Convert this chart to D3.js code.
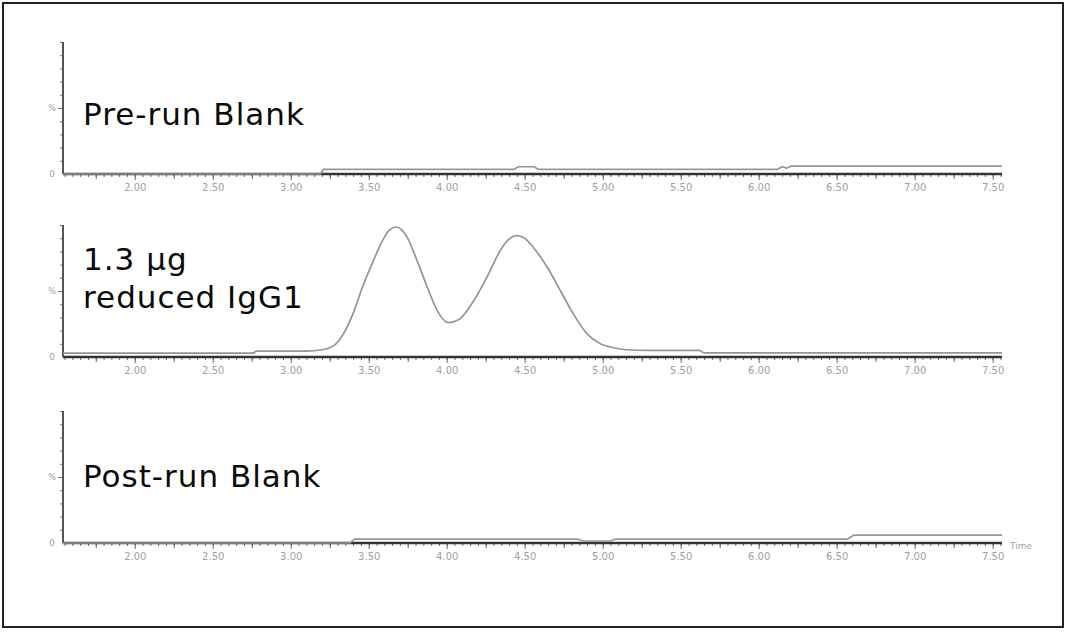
<!DOCTYPE html>
<html>
<head>
<meta charset="utf-8">
<script src="https://cdn.jsdelivr.net/npm/d3@7"></script>
<style>
  html, body { margin: 0; padding: 0; background: #fff; }
  svg { display: block; }
  .tick-label { font-family: "DejaVu Sans", Verdana, sans-serif; font-size: 10px; fill: #a0a0a0; }
  .panel-title { font-family: "DejaVu Sans", Verdana, sans-serif; font-size: 31px; letter-spacing: 1px; fill: #0a0a0a; }
</style>
</head>
<body>
<svg id="chart" width="1069" height="632"></svg>
<script>
// time axis labels (min)
const timeLabels = [2.00, 2.50, 3.00, 3.50, 4.00, 4.50, 5.00, 5.50, 6.00, 6.50, 7.00, 7.50];
const timeDomain = [1.54, 7.56];

// Pre-run blank trace (% signal)
const preRunTime   = [1.54, 3.19, 3.21, 4.43, 4.46, 4.56, 4.59, 6.12, 6.15, 6.18, 6.21, 6.24, 7.56];
const preRunSignal = [0,    0,    3.5,  3.5,  5.5,  5.5,  3.5,  3.5,  5.5,  4.5,  6,    6,    6];

// 1.3 ug reduced IgG1 trace (% signal)
const iggTime   = [1.54, 2.00, 2.50, 2.74, 2.76, 2.78, 2.80, 3.00, 3.10, 3.20, 3.28, 3.34, 3.40, 3.46, 3.53, 3.59, 3.63,
                   3.675, 3.71, 3.745, 3.81, 3.875, 3.94, 4.01, 4.085, 4.17, 4.26, 4.345, 4.40, 4.45, 4.50, 4.555,
                   4.645, 4.73, 4.81, 4.90, 4.985, 5.07, 5.15, 5.30, 5.45, 5.60, 5.62, 5.65, 5.67, 6.00, 6.50, 7.00, 7.56];
const iggSignal = [3.0,  3.0,  3.0,  3.0,  3.0,  4.5,  4.5,  4.5,  4.5,  5.5,  9,    18,   33,   53,   73,   88.5, 96,
                   98.5,  96.5, 91,    73,   53,    35,   26,   29,    42,   61,   81,    89.5, 92,   90,   83,
                   68,    50,   33,   17.5, 10,    7,    5.5,  5,    5,    5,    5,    3.2,  3.2,  3.2,  3.2,  3.2,  3.2];

// Post-run blank trace (% signal)
const postRunTime   = [1.54, 3.38, 3.41, 4.84, 4.87, 5.05, 5.08, 6.57, 6.61, 7.56];
const postRunSignal = [0,    0,    3,    3,    1.5,  1.5,  3,    3,    6,    6];

const panels = [
  { time: preRunTime, signal: preRunSignal, title: ['Pre-run Blank'], curve: d3.curveLinear },
  { time: iggTime, signal: iggSignal, title: ['1.3 \u00b5g', 'reduced IgG1'], curve: d3.curveMonotoneX },
  { time: postRunTime, signal: postRunSignal, title: ['Post-run Blank'], curve: d3.curveLinear }
];

const svg = d3.select('#chart');
const LEFT = 63, RIGHT = 1002, PANEL_H = 132;
const panelTops = [42, 225, 411];
const titleBaselines = [[125], [270, 308], [487]];

svg.append('rect')
  .attr('x', 3).attr('y', 3)
  .attr('width', 1060).attr('height', 624)
  .attr('fill', 'none')
  .attr('stroke', '#222')
  .attr('stroke-width', 2);

let xScale = d3.scaleLinear().domain(timeDomain).range([LEFT, RIGHT]);

// minor ticks every 0.05 min, medium every 0.25
const minorTicks = d3.range(1.55, 7.56, 0.05).map(v => +v.toFixed(2));
const mediumTicks = minorTicks.filter(v => Math.abs(v * 4 - Math.round(v * 4)) < 1e-6 && Math.abs(v * 2 - Math.round(v * 2)) > 1e-6);

panels.forEach((p, i) => {
  const top = panelTops[i], bottom = top + PANEL_H;
  let yScale = d3.scaleLinear().domain([0, 100]).range([bottom, top]);
  let g = svg.append('g');

  // x axis
  g.append('g')
    .attr('transform', `translate(0,${bottom})`)
    .call(d3.axisBottom(xScale).tickValues(minorTicks).tickSize(3).tickFormat(''))
    .call(a => a.select('.domain').remove())
    .call(a => a.selectAll('line').attr('stroke', '#6a6a6a'));

  g.append('g')
    .attr('transform', `translate(0,${bottom})`)
    .call(d3.axisBottom(xScale).tickValues(mediumTicks).tickSize(5).tickFormat(''))
    .call(a => a.select('.domain').remove())
    .call(a => a.selectAll('line').attr('stroke', '#6a6a6a'));

  g.append('g')
    .attr('transform', `translate(0,${bottom})`)
    .call(d3.axisBottom(xScale).tickValues(timeLabels).tickSize(6).tickPadding(4).tickFormat(d3.format('.2f')))
    .call(a => a.select('.domain').remove())
    .call(a => a.selectAll('line').attr('stroke', '#6a6a6a'))
    .call(a => a.selectAll('text').attr('class', 'tick-label').attr('fill', null));

  g.append('line')
    .attr('x1', LEFT).attr('x2', RIGHT)
    .attr('y1', bottom).attr('y2', bottom)
    .attr('stroke', '#333')
    .attr('stroke-width', 2.4);

  // y axis
  g.append('g')
    .attr('transform', `translate(${LEFT},0)`)
    .call(d3.axisLeft(yScale).tickValues([10, 20, 30, 40, 60, 70, 80, 90, 100]).tickSize(3).tickFormat(''))
    .call(a => a.select('.domain').remove())
    .call(a => a.selectAll('line').attr('stroke', '#777'));

  g.append('g')
    .attr('transform', `translate(${LEFT},0)`)
    .call(d3.axisLeft(yScale).tickValues([50]).tickSize(5).tickFormat(''))
    .call(a => a.select('.domain').remove())
    .call(a => a.selectAll('line').attr('stroke', '#777'));

  g.append('line')
    .attr('x1', LEFT).attr('x2', LEFT)
    .attr('y1', top).attr('y2', bottom)
    .attr('stroke', '#555')
    .attr('stroke-width', 2);

  g.append('text')
    .attr('class', 'tick-label')
    .attr('x', 52).attr('y', yScale(50) + 3)
    .attr('text-anchor', 'middle')
    .style('font-size', '8px')
    .text('%');

  g.append('text')
    .attr('class', 'tick-label')
    .attr('x', 52).attr('y', bottom + 3)
    .attr('text-anchor', 'middle')
    .style('font-size', '9px')
    .text('0');

  // trace
  let line = d3.line()
    .x((d, k) => xScale(p.time[k]))
    .y(d => yScale(d))
    .curve(p.curve);

  g.append('path')
    .datum(p.signal)
    .attr('d', line)
    .attr('fill', 'none')
    .attr('stroke', '#959595')
    .attr('stroke-width', 1.7);

  p.title.forEach((t, k) => {
    g.append('text')
      .attr('class', 'panel-title')
      .attr('x', 83)
      .attr('y', titleBaselines[i][k])
      .text(t);
  });

  if (i === panels.length - 1) {
    g.append('text')
      .attr('class', 'tick-label')
      .attr('x', 1010).attr('y', bottom + 6)
      .style('font-size', '9px')
      .text('Time');
  }
});
</script>
</body>
</html>
